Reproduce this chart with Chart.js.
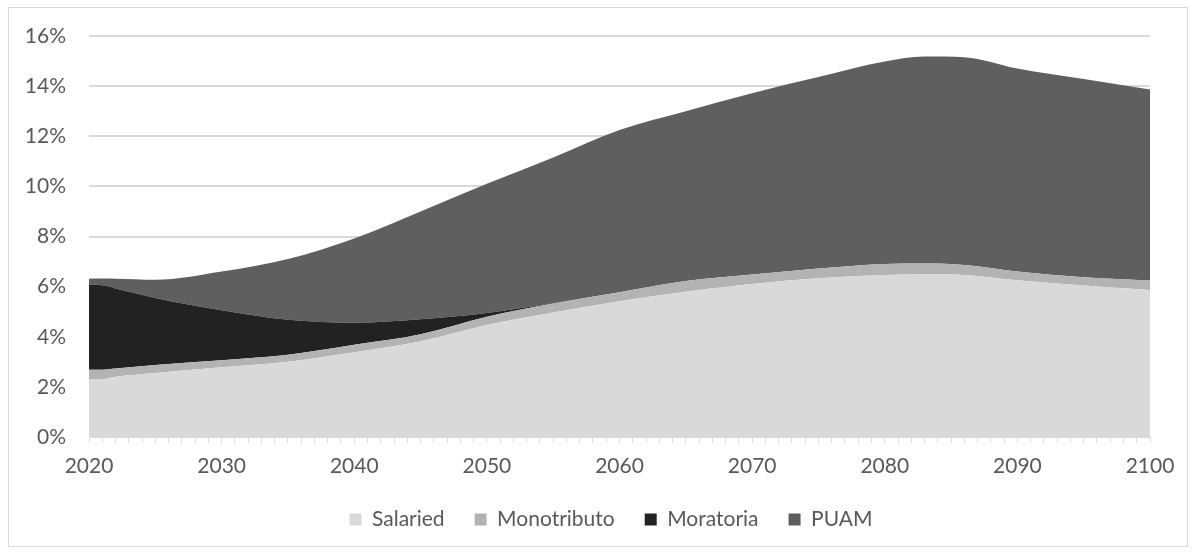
<!DOCTYPE html>
<html>
<head>
<meta charset="utf-8">
<script src="https://cdn.jsdelivr.net/npm/chart.js@4/dist/chart.umd.min.js"></script>
<style>
  body { margin: 0; background: #fff; }
  #wrap { position: relative; width: 1193px; height: 552px; }
  #frame { position: absolute; left: 8px; top: 7px; width: 1180px; height: 540px; border: 1px solid #d9d9d9; box-sizing: border-box; pointer-events: none; }
</style>
</head>
<body>
<div id="wrap">
  <canvas id="pensionChart" width="1193" height="552"></canvas>
  <div id="frame"></div>
</div>
<script>
// years (x positions of the points)
const years = [2020, 2021, 2022, 2025, 2030, 2035, 2040, 2045, 2050, 2055, 2060, 2065, 2070, 2075, 2080, 2083, 2086, 2090, 2095, 2100];

// each layer's own thickness, in % (stacked in this order)
const salaried    = [2.31, 2.31, 2.40, 2.55, 2.78, 3.00, 3.38, 3.82, 4.47, 4.97, 5.42, 5.80, 6.10, 6.33, 6.46, 6.49, 6.46, 6.25, 6.04, 5.87];
const monotributo = [0.37, 0.37, 0.33, 0.32, 0.28, 0.28, 0.30, 0.28, 0.33, 0.36, 0.36, 0.42, 0.38, 0.39, 0.44, 0.43, 0.40, 0.35, 0.33, 0.37];
const moratoria   = [3.39, 3.37, 3.20, 2.68, 2.00, 1.40, 0.88, 0.60, 0.15, 0.02, 0, 0, 0, 0, 0, 0, 0, 0, 0, 0];
const puam        = [0.24, 0.27, 0.38, 0.72, 1.54, 2.42, 3.36, 4.30, 5.15, 5.80, 6.47, 6.78, 7.24, 7.64, 8.08, 8.26, 8.29, 8.10, 7.91, 7.63];

const seriesNames = ["Salaried", "Monotributo", "Moratoria", "PUAM"];
const seriesColors = ["#d9d9d9", "#b3b3b3", "#222222", "#5f5f5f"];

const yTicks = [0, 2, 4, 6, 8, 10, 12, 14, 16];
const xLabelYears = [2020, 2030, 2040, 2050, 2060, 2070, 2080, 2090, 2100];

const textColor = "#595959";
const fontFamily = "Lato, 'Open Sans', sans-serif";

function toPoints(values) {
  return values.map(function (v, i) { return { x: years[i], y: v }; });
}

const datasets = [salaried, monotributo, moratoria, puam].map(function (values, i) {
  return {
    label: seriesNames[i],
    data: toPoints(values),
    backgroundColor: seriesColors[i],
    borderColor: seriesColors[i],
    borderWidth: 0,
    pointRadius: 0,
    fill: i === 0 ? "origin" : "-1",
    cubicInterpolationMode: "monotone"
  };
});

// legend is centred under the plot area, not the whole canvas
const legendShift = {
  id: "legendShift",
  afterLayout: function (chart) {
    chart.legend.left += 54;
  }
};

new Chart(document.getElementById("pensionChart").getContext("2d"), {
  type: "line",
  data: { datasets: datasets },
  plugins: [legendShift],
  options: {
    responsive: false,
    animation: false,
    events: [],
    layout: { padding: { left: 18, right: 43, top: 36, bottom: 12 } },
    plugins: {
      tooltip: { enabled: false },
      legend: {
        position: "bottom",
        maxHeight: 62,
        labels: {
          color: textColor,
          font: { family: fontFamily, size: 21 },
          boxWidth: 12,
          boxHeight: 12,
          padding: 30
        }
      }
    },
    scales: {
      x: {
        type: "linear",
        min: 2020,
        max: 2100,
        grid: { display: true, drawOnChartArea: false, drawTicks: true, tickLength: 6, color: "#d9d9d9" },
        border: { display: true, color: "#d9d9d9" },
        afterBuildTicks: function (scale) {
          const t = [];
          for (let y = 2020; y <= 2100; y++) t.push({ value: y });
          scale.ticks = t;
        },
        afterFit: function (scale) { scale.height = 42; },
        ticks: {
          autoSkip: false,
          maxRotation: 0,
          padding: 11,
          color: textColor,
          font: { family: fontFamily, size: 21 },
          callback: function (v) { return xLabelYears.indexOf(v) >= 0 ? String(v) : ""; }
        }
      },
      y: {
        stacked: true,
        min: 0,
        max: 16,
        afterBuildTicks: function (scale) {
          scale.ticks = yTicks.map(function (v) { return { value: v }; });
        },
        afterFit: function (scale) { scale.width = 71; },
        grid: { color: "#d9d9d9", lineWidth: 2, drawTicks: false },
        border: { display: false },
        ticks: {
          padding: 23,
          color: textColor,
          font: { family: fontFamily, size: 21 },
          callback: function (v) { return v + "%"; }
        }
      }
    }
  }
});
</script>
</body>
</html>
